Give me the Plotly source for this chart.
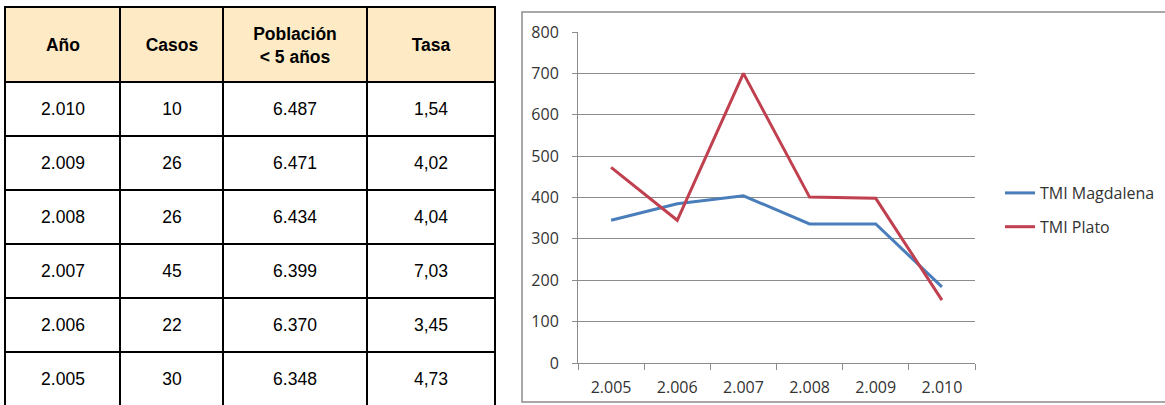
import plotly.graph_objects as go

# ---- table data ----
tbl_header = ["<b>Año</b>", "<b>Casos</b>", "<b>Población<br>&lt; 5 años</b>", "<b>Tasa</b>"]
tbl_anio = ["2.010", "2.009", "2.008", "2.007", "2.006", "2.005"]
tbl_casos = ["10", "26", "26", "45", "22", "30"]
tbl_poblacion = ["6.487", "6.471", "6.434", "6.399", "6.370", "6.348"]
tbl_tasa = ["1,54", "4,02", "4,04", "7,03", "3,45", "4,73"]

# ---- chart data ----
years = ["2.005", "2.006", "2.007", "2.008", "2.009", "2.010"]
tmi_magdalena = [345, 385, 404, 336, 336, 184]
tmi_plato = [473, 345, 700, 401, 398, 152]
y_ticks = [0, 100, 200, 300, 400, 500, 600, 700, 800]

# ---- layout constants (pixels) ----
W, H = 1165, 405
col_widths = [115, 103, 144, 128]
row_heights = [75] + [54] * len(tbl_anio)
TBL_LEFT, TBL_TOP = 5, 7

def px(x):
    return x / W
def py(y):
    return (H - y) / H

def edges(sizes):
    out = [0]
    for s in sizes:
        out.append(out[-1] + s)
    return out

x_edges = edges(col_widths)
y_edges = edges(row_heights)
tbl_w = x_edges[-1]

# cell text and fill level (1 = header, 0 = body)
cell_text = [tbl_header] + [list(r) for r in zip(tbl_anio, tbl_casos, tbl_poblacion, tbl_tasa)]
cell_fill = [[1] * 4] + [[0] * 4 for _ in tbl_anio]

TFONT = "Liberation Sans, Arial, sans-serif"
CFONT = "Open Sans, Liberation Sans, sans-serif"
TXT = "#333333"
GRID = "#8C8C8C"

fig = go.Figure()

fig.add_trace(go.Heatmap(
    x=x_edges, y=y_edges, z=cell_fill, text=cell_text, texttemplate="%{text}",
    textfont=dict(family=TFONT, size=17.5, color="black"),
    colorscale=[[0, "white"], [1, "#FEEBC6"]], zmin=0, zmax=1, showscale=False,
    xgap=2, ygap=2, hoverinfo="skip", xaxis="x2", yaxis="y2",
))

fig.add_trace(go.Scatter(x=years, y=tmi_magdalena, mode="lines", name="TMI Magdalena",
                         legendgroup="a", line=dict(color="#4A7EBB", width=3)))
fig.add_trace(go.Scatter(x=years, y=tmi_plato, mode="lines", name="TMI Plato",
                         legendgroup="b", line=dict(color="#C0404F", width=3)))

fig.update_layout(
    width=W, height=H,
    margin=dict(l=0, r=0, t=0, b=0, pad=0, autoexpand=False),
    paper_bgcolor="white", plot_bgcolor="black",
    font=dict(family=CFONT, size=16, color=TXT),
    xaxis=dict(domain=[px(578), px(975)], type="category", range=[-0.5, 5.5],
               showgrid=False, showline=True, linecolor=GRID, linewidth=1,
               ticks="outside", tickson="boundaries", ticklen=6, tickcolor=GRID,
               ticklabelstandoff=10, automargin=False,
               tickfont=dict(family=CFONT, size=16, color=TXT), zeroline=False),
    yaxis=dict(domain=[py(363), py(32)], range=[0, 800], tickvals=y_ticks,
               showgrid=True, gridcolor=GRID, gridwidth=1,
               showline=True, linecolor=GRID, linewidth=1,
               ticks="outside", ticklen=5, tickcolor=GRID, zeroline=False,
               ticklabelstandoff=10, automargin=False,
               tickfont=dict(family=CFONT, size=16, color=TXT)),
    xaxis2=dict(domain=[px(TBL_LEFT - 1), px(TBL_LEFT + tbl_w + 1)], range=[-1, tbl_w + 1],
                visible=False, fixedrange=True, automargin=False),
    yaxis2=dict(domain=[0, py(TBL_TOP - 1)], range=[H - TBL_TOP, -1],
                visible=False, fixedrange=True, automargin=False),
    legend=dict(x=px(1000), y=py(176), xanchor="left", yanchor="top",
                font=dict(family=CFONT, size=16, color=TXT),
                bgcolor="rgba(0,0,0,0)", tracegroupgap=10),
    shapes=[
        dict(type="rect", xref="x domain", yref="y domain", x0=0, x1=1, y0=0, y1=1,
             fillcolor="white", line=dict(width=0), layer="below"),
        dict(type="rect", xref="paper", yref="paper",
             x0=px(522), x1=1.01, y0=py(402), y1=py(12),
             line=dict(color=GRID, width=1.5), layer="below"),
    ],
)

fig.write_html("out.html", config={"displayModeBar": False},
               post_script="document.body.style.margin='0';")
